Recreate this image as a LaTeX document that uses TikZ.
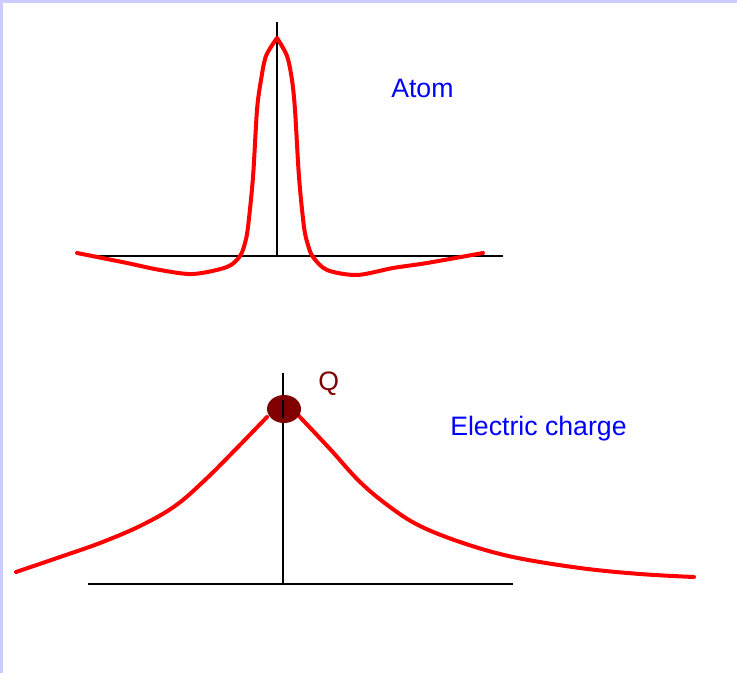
\documentclass[tikz,border=0pt]{standalone}
\usepackage{fontspec}
\setmainfont{Liberation Sans}
\usepackage{xcolor}
\definecolor{framelav}{HTML}{CCCCFF}
\definecolor{chargered}{HTML}{800000}
\begin{document}
\begin{tikzpicture}[
    x=0.75pt, y=-0.75pt,
    axis/.style={draw=black, line width=1.5pt},
    wave/.style={draw=red, line width=3pt, line cap=round, line join=round},
    caption/.style={font=\fontsize{20}{24}\selectfont, text=blue, anchor=base west, inner sep=0pt}
]
\useasboundingbox (0,0) rectangle (737,673);
\fill[framelav] (0,0) rectangle (737,673);
\fill[white] (3,3) rectangle (737,673);
\coordinate (atomtop) at (277,22);
\coordinate (atomorigin) at (277,256);
\coordinate (atomleft) at (93,256);
\coordinate (atomright) at (503,256);
\coordinate (atompeak) at (277,38);
\draw[axis] (atomleft) -- (atomright);
\draw[axis] (atomorigin) -- (atomtop);
\draw[wave] plot[smooth, tension=0.5] coordinates {
    (77,253) (127,263) (160,270) (193,274) (227,267) (240,256) (245,243)
    (248,227) (253,177) (257,110) (261,80) (266,56) (atompeak)};
\draw[wave] plot[smooth, tension=0.5] coordinates {
    (atompeak) (287,56) (292,80) (295,110) (299,177) (304,227) (308,245)
    (313,257) (327,270) (357,275) (393,268) (427,263) (483,253)};
\node[caption] (atom) at (391,98) {Atom};
\coordinate (chargetop) at (283,373);
\coordinate (chargeorigin) at (283,584);
\coordinate (chargeleft) at (88,584);
\coordinate (chargeright) at (513,584);
\draw[axis] (chargeleft) -- (chargeright);
\draw[axis] (chargeorigin) -- (chargetop);
\draw[wave] plot[smooth, tension=0.6] coordinates {
    (16,572) (60,557) (100,543) (140,526) (175,506) (205,480) (235,450) (267,417)};
\draw[wave] plot[smooth, tension=0.6] coordinates {
    (298,415) (330,449) (360,482) (390,507) (420,526) (463,543) (513,557)
    (580,568) (640,574) (694,577)};
\fill[chargered] (284,409) ellipse [x radius=12.75pt, y radius=10.5pt];
\draw[axis] (283,400) -- (283,418);
\node[caption, text=chargered] (q) at (318,390) {Q};
\node[caption] (electric) at (450,435) {Electric charge};
\end{tikzpicture}
\end{document}
